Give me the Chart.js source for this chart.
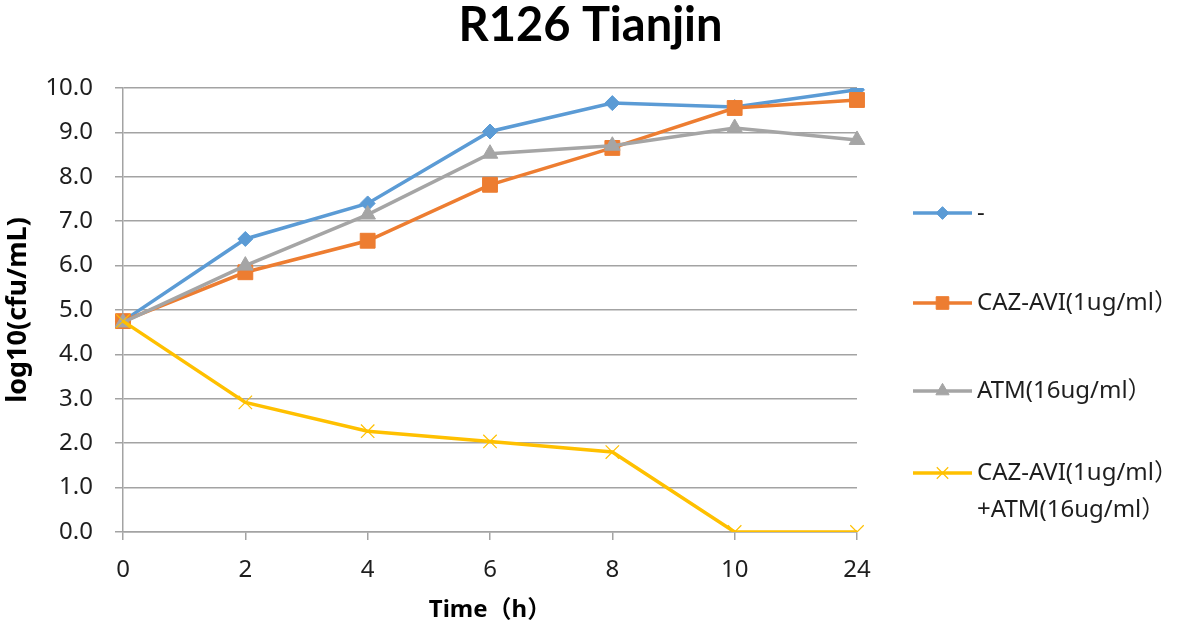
<!DOCTYPE html>
<html><head><meta charset="utf-8">
<script src="https://cdn.jsdelivr.net/npm/chart.js@4.4.1/dist/chart.umd.min.js"></script>
<style>html,body{margin:0;padding:0;background:#fff;} #wrap{position:relative;width:1181px;height:626px;}</style>
</head><body><div id="wrap"><canvas id="c" width="1181" height="626"></canvas></div>
<script>
// ---- data ----
const timeLabels = ['0', '2', '4', '6', '8', '10', '24'];
const seriesNames = ['-', 'CAZ-AVI(1ug/ml）', 'ATM(16ug/ml）', ['CAZ-AVI(1ug/ml）', '+ATM(16ug/ml）']];
const noDrug = [4.75, 6.60, 7.40, 9.02, 9.66, 9.57, 9.96];
const cazAvi = [4.75, 5.85, 6.56, 7.82, 8.65, 9.55, 9.73];
const atm    = [4.72, 6.00, 7.15, 8.52, 8.70, 9.10, 8.83];
const combo  = [4.75, 2.92, 2.27, 2.04, 1.80, 0.00, 0.00];
const yMin = 0, yMax = 10, yStep = 1;
const titleText = 'R126 Tianjin';
const xTitle = 'Time（h）';
const yTitle = 'log10(cfu/mL)';

const COLORS = ['#5B9BD5', '#ED7D31', '#A5A5A5', '#FFC000'];
const GRID = '#a3a3a3';
const TXT = '#1e1e1e';
const FONT = '"Noto Sans", "Noto Sans CJK SC", sans-serif';

function mkDs(label, data, i, style, radius, order) {
  return {
    label: Array.isArray(label) ? label.join(' ') : label,
    legendLines: Array.isArray(label) ? label : [label],
    data, order, yAxisID: 'y',
    borderColor: COLORS[i], backgroundColor: COLORS[i],
    borderWidth: 3.5, tension: 0,
    pointStyle: style, pointRadius: radius, pointHoverRadius: radius,
    pointBackgroundColor: COLORS[i], pointBorderColor: COLORS[i],
    pointBorderWidth: style === 'crossRot' ? 1.2 : 1
  };
}

function drawMarker(ctx, style, r, x, y) {
  ctx.beginPath();
  if (style === 'rectRot') {
    ctx.moveTo(x, y - r); ctx.lineTo(x + r, y); ctx.lineTo(x, y + r); ctx.lineTo(x - r, y); ctx.closePath();
    ctx.fill(); ctx.stroke();
  } else if (style === 'rect') {
    const s = r * Math.SQRT1_2;
    ctx.rect(x - s, y - s, 2 * s, 2 * s); ctx.fill(); ctx.stroke();
  } else if (style === 'triangle') {
    ctx.moveTo(x, y - r);
    ctx.lineTo(x + r * Math.sin(2 * Math.PI / 3), y - r * Math.cos(2 * Math.PI / 3));
    ctx.lineTo(x + r * Math.sin(4 * Math.PI / 3), y - r * Math.cos(4 * Math.PI / 3));
    ctx.closePath(); ctx.fill(); ctx.stroke();
  } else if (style === 'crossRot') {
    const s = r * Math.SQRT1_2;
    ctx.moveTo(x - s, y - s); ctx.lineTo(x + s, y + s);
    ctx.moveTo(x - s, y + s); ctx.lineTo(x + s, y - s);
    ctx.stroke();
  }
}

const sideLegend = {
  id: 'sideLegend',
  afterDraw(chart) {
    const ctx = chart.ctx;
    const ca = chart.chartArea;
    const x0 = ca.right + 56, x1 = ca.right + 115, xm = (x0 + x1) / 2, xt = ca.right + 120;
    const ys = [213, 303, 391, 473];
    const lineGap = 37;
    chart.data.datasets.forEach((ds, i) => {
      const y = ys[i];
      ctx.save();
      ctx.strokeStyle = ds.borderColor; ctx.lineWidth = 3.5; ctx.lineCap = 'butt';
      ctx.beginPath(); ctx.moveTo(x0, y); ctx.lineTo(x1, y); ctx.stroke();
      ctx.fillStyle = ds.pointBackgroundColor; ctx.strokeStyle = ds.pointBorderColor; ctx.lineWidth = ds.pointBorderWidth;
      drawMarker(ctx, ds.pointStyle, ds.pointRadius * 0.85, xm, y);
      ctx.fillStyle = TXT; ctx.font = '24px ' + FONT; ctx.textBaseline = 'middle'; ctx.textAlign = 'left';
      ds.legendLines.forEach((t, k) => ctx.fillText(t, xt, y + k * lineGap));
      ctx.restore();
    });
  }
};

new Chart(document.getElementById('c'), {
  type: 'line',
  data: {
    labels: timeLabels,
    datasets: [
      mkDs(seriesNames[0], noDrug, 0, 'rectRot', 7.5, 4),
      mkDs(seriesNames[1], cazAvi, 1, 'rect', 10.5, 3),
      mkDs(seriesNames[2], atm, 2, 'triangle', 9, 2),
      mkDs(seriesNames[3], combo, 3, 'crossRot', 9.5, 1)
    ]
  },
  options: {
    responsive: false, animation: false, devicePixelRatio: 1,
    layout: { padding: { left: 0, right: 0, top: 0, bottom: 0 } },
    plugins: {
      legend: { display: false },
      tooltip: { enabled: false },
      title: {
        display: true, text: titleText, color: '#000',
        font: { family: 'Lato, sans-serif', size: 47, weight: 'bold', lineHeight: 1.1 },
        padding: { top: 0, bottom: 36.3 }
      }
    },
    scales: {
      x: {
        type: 'category', offset: false,
        grid: { display: true, drawOnChartArea: false, drawTicks: true, tickLength: 8, color: GRID, lineWidth: 1.5 },
        border: { display: true, color: GRID, width: 1.5 },
        ticks: { color: TXT, font: { family: FONT, size: 24 }, padding: 16, maxRotation: 0, autoSkip: false },
        title: { display: true, text: xTitle, color: '#000', font: { family: FONT, size: 24, weight: 'bold' }, padding: { top: 0, bottom: 1 } },
        afterFit: s => { s.height = 94; }
      },
      y: {
        min: yMin, max: yMax, position: 'left',
        grid: { color: GRID, lineWidth: 1.5, tickLength: 8, drawTicks: true },
        border: { display: true, color: GRID, width: 1.5 },
        ticks: { stepSize: yStep, color: TXT, font: { family: FONT, size: 24 }, padding: 22,
                 callback: v => Number(v).toFixed(1) },
        title: { display: true, text: yTitle, color: '#000', font: { family: FONT, size: 27, weight: 'bold' }, padding: { top: 2, bottom: 0 } },
        afterFit: s => { s.width = 123; }
      },
      legendSpace: {
        position: 'right', display: true, min: 0, max: 1,
        grid: { display: false }, border: { display: false }, ticks: { display: false },
        afterFit: s => { s.width = 324; }
      }
    }
  },
  plugins: [sideLegend]
});
</script></body></html>
